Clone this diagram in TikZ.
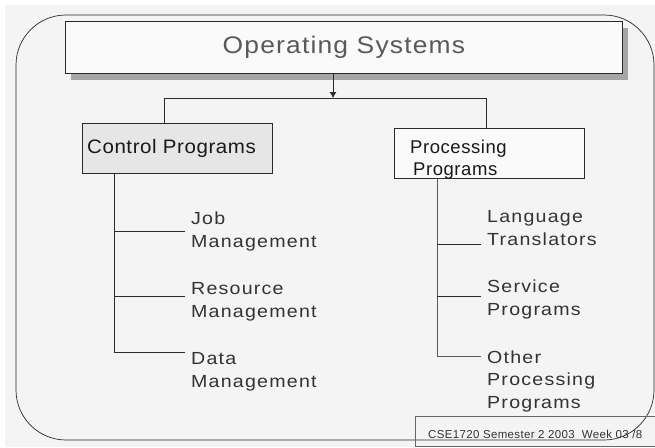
\documentclass[tikz,border=0pt]{standalone}
\usepackage{fontspec}
\setmainfont{Liberation Sans}
\newfontfamily\titlefont[FakeStretch=1.1,LetterSpace=5]{Liberation Sans}
\newfontfamily\headfont[FakeStretch=1.05,LetterSpace=3]{Liberation Sans}
\newfontfamily\procfont[LetterSpace=3]{Liberation Sans}
\newfontfamily\itemfont[FakeStretch=1.12,LetterSpace=7]{Liberation Sans}
\newfontfamily\footfont[LetterSpace=3]{Liberation Sans}
\usetikzlibrary{arrows.meta,shadows}
\definecolor{slidebg}{HTML}{F4F4F4}
\definecolor{boxfill}{HTML}{FAFAFA}
\definecolor{ctrlfill}{HTML}{E6E6E6}
\definecolor{linegray}{HTML}{2A2A2A}
\tikzset{
  box/.style={draw=linegray, line width=0.8pt, anchor=north west, inner sep=0pt},
  item/.style={anchor=base west, inner sep=0pt, align=left, text=black!80,
    font=\itemfont\fontsize{17.5}{22.5}\selectfont},
  branch/.style={draw=linegray, line width=0.8pt}
}
\begin{document}
\begin{tikzpicture}[x=1pt,y=-1pt]
        \useasboundingbox (0,0) rectangle (655,447);
        \fill[slidebg] (5,5) rectangle (655,447);

        \draw[linegray, line width=0.7pt, rounded corners=50pt] (16,15) rectangle (654,440);

        \node[box, fill=boxfill, minimum width=557pt, minimum height=52pt,
              drop shadow={shadow xshift=6pt, shadow yshift=-7pt, fill=black!35, opacity=1},
              text=black!65, font=\titlefont\fontsize{24}{28}\selectfont] (os) at (65,21) {Operating Systems};

        \node[box, fill=ctrlfill, minimum width=190pt, minimum height=50pt] (cp) at (82,123) {};
        \node[anchor=base west, inner sep=0pt, text=black!90,
              font=\headfont\fontsize{19.5}{22}\selectfont] (cptext) at (87,153) {Control Programs};

        \node[box, fill=boxfill, minimum width=190pt, minimum height=50pt] (pp) at (394,128) {};
        % base of the last line
        \node[anchor=base west, inner sep=0pt, align=left, text=black!90,
              font=\procfont\fontsize{18.5}{22}\selectfont] (pptext) at (410,175) {Processing\\\hspace{3pt}Programs};

        % connectors from the top box
        \coordinate (hub) at (333,98);
        \coordinate (lt) at (164,98);
        \coordinate (rt) at (486,98);
        \draw[-{Latex[length=6pt,width=7pt]}, linegray, line width=0.8pt] (os.south -| hub) -- (hub);
        \draw[branch] (cp.north -| lt) -- (lt) -- (rt) -- (rt |- pp.north);

        % control programs
        \node[item] (job) at (191,247) {Job\\Management};
        \node[item] (res) at (191,317) {Resource\\Management};
        \node[item] (data) at (191,387) {Data\\Management};
        \coordinate (ctrunk) at (114,173);
        \coordinate (jobend) at (185,231);
        \coordinate (resend) at (185,296);
        \coordinate (dataend) at (185,352);
        \draw[branch] (ctrunk) |- (dataend);
        \draw[branch] (ctrunk |- jobend) -- (jobend);
        \draw[branch] (ctrunk |- resend) -- (resend);

        % processing programs
        \node[item] (lang) at (487,245) {Language\\Translators};
        \node[item] (serv) at (487,315) {Service\\Programs};
        \node[item] (other) at (487,408) {Other\\Processing\\Programs};
        \coordinate (ptrunk) at (437,178);
        \coordinate (langend) at (481,244);
        \coordinate (servend) at (481,296);
        \coordinate (otherend) at (481,356);
        \draw[branch, draw=black!65] (ptrunk) |- (otherend);
        \draw[branch] (ptrunk |- langend) -- (langend);
        \draw[branch] (ptrunk |- servend) -- (servend);

        % footer
        \node[box, draw=black!60, line width=0.6pt, minimum width=250pt, minimum height=30pt] (foot) at (415,416) {};
        \node[anchor=base west, inner sep=0pt, text=black!80,
              font=\footfont\fontsize{11.5}{13}\selectfont] (foottext) at (428,438) {CSE1720 Semester 2 2003\ \ Week 03 /8};
    \end{tikzpicture}
\end{document}
